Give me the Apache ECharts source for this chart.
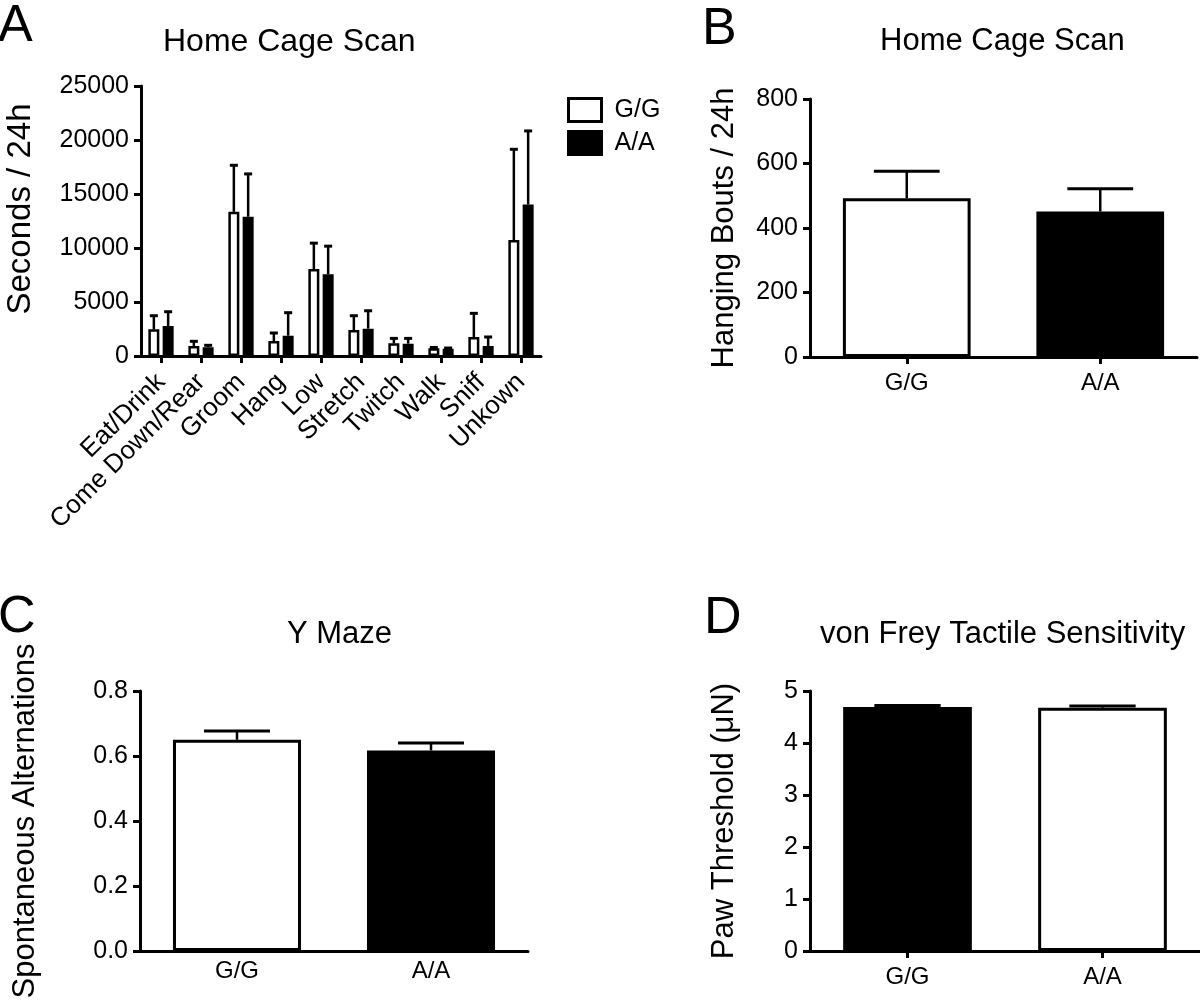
<!DOCTYPE html>
<html>
<head>
<meta charset="utf-8">
<script src="https://cdn.jsdelivr.net/npm/echarts@6/dist/echarts.min.js"></script>
<style>
html,body{margin:0;padding:0;background:#fff;}
#c{width:1200px;height:1007px;}
</style>
</head>
<body>
<div id="c"></div>
<script>
// ---- Data ----
const behaviours = ['Eat/Drink','Come Down/Rear','Groom','Hang','Low','Stretch','Twitch','Walk','Sniff','Unkown'];
const scanGGMean = [2470, 930, 13350, 1390, 8050, 2400, 1170, 710, 1760, 10730];
const scanGGErr  = [3730, 1360, 17660, 2130, 10450, 3730, 1630, 790, 3950, 19140];
const scanAAMean = [2770, 800, 12890, 1880, 7580, 2530, 1140, 680, 930, 14030];
const scanAAErr  = [4100, 990, 16860, 4010, 10170, 4190, 1630, 740, 1760, 20840];

const genotypes = ['G/G', 'A/A'];
const hangMean = [492, 451];
const hangErr  = [576, 522];
const mazeMean = [0.650, 0.617];
const mazeErr  = [0.677, 0.640];
const freyMean = [4.69, 4.68];
const freyErr  = [4.72, 4.71];

const yTicksA = [0, 25000, 5000];
const yTicksB = [0, 800, 200];
const yTicksC = [0, 0.8, 0.2];
const yTicksD = [0, 5, 1];

// ---- Style ----
const FONT = "'Liberation Sans', Arial, Helvetica, sans-serif";
const BAR_W = 11, BAR_GAP = 0.3;
const PAIR_OFF = BAR_W * (1 + BAR_GAP) / 2;

const chart = echarts.init(document.getElementById('c'), null, {renderer: 'canvas'});

function errRender(offset, capFrac, capPx) {
  return function (params, api) {
    const x = api.value(0), m = api.value(1), e = api.value(2);
    const p1 = api.coord([x, m]);
    const p2 = api.coord([x, e]);
    const band = api.size([1, 0])[0];
    const cw = capPx != null ? capPx : band * capFrac;
    const cx = p1[0] + offset;
    return {
      type: 'group',
      children: [
        {type: 'line', shape: {x1: cx, y1: p1[1], x2: cx, y2: p2[1]}, style: {stroke: '#000', lineWidth: 2.5}},
        {type: 'line', shape: {x1: cx - cw / 2, y1: p2[1], x2: cx + cw / 2, y2: p2[1]}, style: {stroke: '#000', lineWidth: 3}}
      ]
    };
  };
}

function yAxis(gi, ticks, name, gap, fmt, nameSize, namePad) {
  return {
    type: 'value', gridIndex: gi, min: ticks[0], max: ticks[1], interval: ticks[2],
    name: name, nameLocation: 'middle', nameGap: gap,
    nameTextStyle: {fontFamily: FONT, fontSize: nameSize || 31, color: '#000', padding: namePad || 0},
    axisLine: {show: true, lineStyle: {color: '#000', width: 3}},
    axisTick: {show: true, length: 7, lineStyle: {color: '#000', width: 3}},
    axisLabel: {fontFamily: FONT, fontSize: 25, color: '#000', margin: 12, formatter: fmt},
    splitLine: {show: false}
  };
}

function xAxis(gi, data, ticks, extra) {
  return Object.assign({
    type: 'category', gridIndex: gi, data: data, boundaryGap: true,
    axisLine: {show: true, lineStyle: {color: '#000', width: 3}},
    axisTick: {show: ticks, alignWithLabel: true, length: 7, lineStyle: {color: '#000', width: 3}},
    axisLabel: {fontFamily: FONT, fontSize: 24, color: '#000', margin: 14, interval: 0}
  }, extra || {});
}

function pairData(means, colors) {
  return means.map((v, i) => ({
    value: v,
    itemStyle: {color: colors[i], borderColor: '#000', borderWidth: 3}
  }));
}

function errData(means, errs) {
  return means.map((v, i) => [i, v, errs[i]]);
}

const titleStyle = {fontFamily: FONT, fontSize: 31, fontWeight: 'normal', color: '#000'};
const letterStyle = {fontFamily: FONT, fontSize: 52, fontWeight: 'normal', color: '#000'};

const option = {
  backgroundColor: '#fff',
  animation: false,
  title: [
    {text: 'A', left: -2, top: 1, textStyle: letterStyle, padding: 0},
    {text: 'Home Cage Scan', left: 163, top: 26, textStyle: Object.assign({}, titleStyle, {fontSize: 32}), padding: 0},
    {text: 'B', left: 702, top: 4, textStyle: letterStyle, padding: 0},
    {text: 'Home Cage Scan', left: 880, top: 26, textStyle: titleStyle, padding: 0},
    {text: 'C', left: -2, top: 592, textStyle: letterStyle, padding: 0},
    {text: 'Y Maze', left: 287, top: 619, textStyle: titleStyle, padding: 0},
    {text: 'D', left: 704, top: 593, textStyle: letterStyle, padding: 0},
    {text: 'von Frey Tactile Sensitivity', left: 820, top: 619, textStyle: titleStyle, padding: 0}
  ],
  legend: {
    orient: 'vertical', left: 567, top: 97, padding: 0,
    itemWidth: 33, itemHeight: 23, itemGap: 7,
    icon: 'rect',
    textStyle: {fontFamily: FONT, fontSize: 25, color: '#000', padding: [0, 0, 0, 8]},
    data: [
      {name: 'G/G', itemStyle: {color: '#fff', borderColor: '#000', borderWidth: 3}},
      {name: 'A/A', itemStyle: {color: '#000', borderColor: '#000', borderWidth: 3}}
    ],
    selectedMode: false
  },
  grid: [
    {left: 141, top: 86, width: 400, height: 270},
    {left: 810, top: 99, width: 387, height: 258},
    {left: 140, top: 691, width: 388, height: 260},
    {left: 810, top: 691, width: 390, height: 260}
  ],
  xAxis: [
    xAxis(0, behaviours, true, {axisLabel: {fontFamily: FONT, fontSize: 26, color: '#000', margin: 22, interval: 0, rotate: 45}}),
    xAxis(1, genotypes, true),
    xAxis(2, genotypes, false, {axisLabel: {fontFamily: FONT, fontSize: 24, color: '#000', margin: 8, interval: 0}}),
    xAxis(3, genotypes, true)
  ],
  yAxis: [
    yAxis(0, yTicksA, 'Seconds / 24h', 104, v => String(v), 33, [0, 0, 0, 24]),
    yAxis(1, yTicksB, 'Hanging Bouts / 24h', 70),
    yAxis(2, yTicksC, 'Spontaneous Alternations', 99, v => v.toFixed(1)),
    yAxis(3, yTicksD, 'Paw Threshold (μN)', 70)
  ],
  series: [
    {name: 'G/G', type: 'bar', xAxisIndex: 0, yAxisIndex: 0, data: scanGGMean,
     barWidth: BAR_W, barGap: (BAR_GAP * 100) + '%',
     itemStyle: {color: '#fff', borderColor: '#000', borderWidth: 2.5}},
    {name: 'A/A', type: 'bar', xAxisIndex: 0, yAxisIndex: 0, data: scanAAMean,
     barWidth: BAR_W, barGap: (BAR_GAP * 100) + '%',
     itemStyle: {color: '#000', borderColor: '#000', borderWidth: 2.5}},
    {name: 'errGG', type: 'custom', xAxisIndex: 0, yAxisIndex: 0, z: 3,
     renderItem: errRender(-PAIR_OFF, null, 8), encode: {x: 0, y: [1, 2]}, data: errData(scanGGMean, scanGGErr)},
    {name: 'errAA', type: 'custom', xAxisIndex: 0, yAxisIndex: 0, z: 3,
     renderItem: errRender(PAIR_OFF, null, 8), encode: {x: 0, y: [1, 2]}, data: errData(scanAAMean, scanAAErr)},

    {name: 'hang', type: 'bar', xAxisIndex: 1, yAxisIndex: 1, barWidth: '66%',
     data: pairData(hangMean, ['#fff', '#000'])},
    {name: 'hangErr', type: 'custom', xAxisIndex: 1, yAxisIndex: 1, z: 3,
     renderItem: errRender(0, 0.34), encode: {x: 0, y: [1, 2]}, data: errData(hangMean, hangErr)},

    {name: 'maze', type: 'bar', xAxisIndex: 2, yAxisIndex: 2, barWidth: '66%',
     data: pairData(mazeMean, ['#fff', '#000'])},
    {name: 'mazeErr', type: 'custom', xAxisIndex: 2, yAxisIndex: 2, z: 3,
     renderItem: errRender(0, 0.34), encode: {x: 0, y: [1, 2]}, data: errData(mazeMean, mazeErr)},

    {name: 'frey', type: 'bar', xAxisIndex: 3, yAxisIndex: 3, barWidth: '66%',
     data: pairData(freyMean, ['#000', '#fff'])},
    {name: 'freyErr', type: 'custom', xAxisIndex: 3, yAxisIndex: 3, z: 3,
     renderItem: errRender(0, 0.34), encode: {x: 0, y: [1, 2]}, data: errData(freyMean, freyErr)}
  ]
};

chart.setOption(option);
</script>
</body>
</html>
